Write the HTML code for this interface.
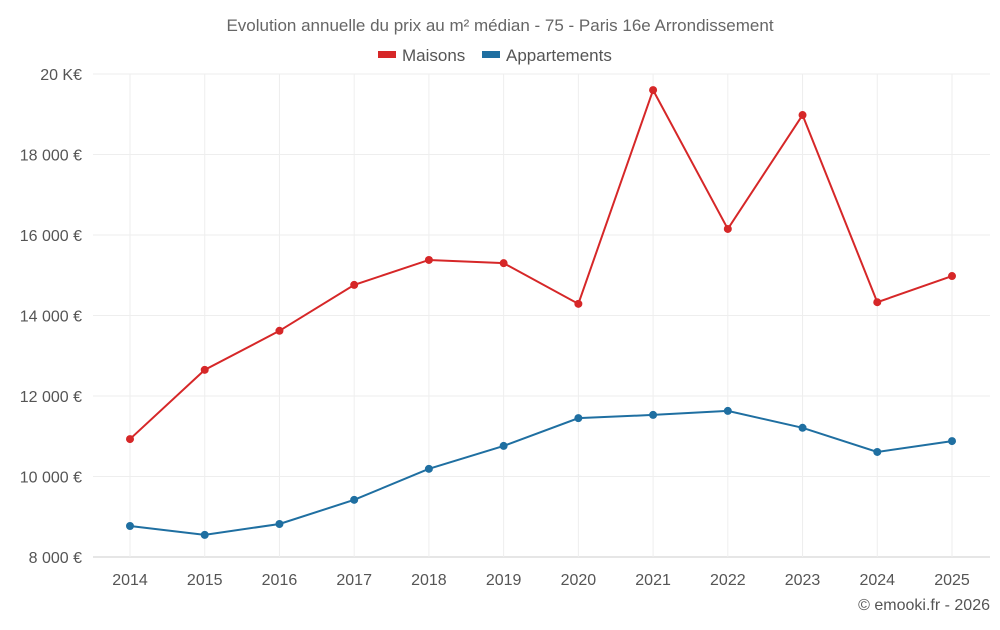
<!DOCTYPE html>
<html><head><meta charset="utf-8"><style>
body{margin:0;background:#fff;font-family:"Liberation Sans",sans-serif}
svg text{font-family:"Liberation Sans",sans-serif}
</style></head><body>
<svg id="c" width="1000" height="625">
<text x="500" y="31" text-anchor="middle" font-size="17" fill="#666">Evolution annuelle du prix au m² médian - 75 - Paris 16e Arrondissement</text>
<g><rect x="378" y="51" width="18" height="7" fill="#d62728"/><text x="402" y="61" font-size="17" fill="#555">Maisons</text></g>
<g><rect x="482" y="51" width="18" height="7" fill="#1f6fa1"/><text x="506" y="61" font-size="17" fill="#555">Appartements</text></g>
<text x="990" y="610" text-anchor="end" font-size="16" fill="#555">© emooki.fr - 2026</text>
<g id="grid"></g><g id="axes"></g><g id="series"></g>
</svg>
<script>
const years=["2014","2015","2016","2017","2018","2019","2020","2021","2022","2023","2024","2025"];
const maisons=[10930,12650,13620,14760,15380,15300,14290,19600,16150,18980,14330,14980];
const apparts=[8770,8550,8820,9420,10190,10760,11450,11530,11630,11210,10610,10880];
const yTicks=[8000,10000,12000,14000,16000,18000,20000];
const yTickLabels=["8 000 €","10 000 €","12 000 €","14 000 €","16 000 €","18 000 €","20 K€"];
const L=93,R=990,T=74,B=557,ymin=8000,ymax=20000;
const NS="http://www.w3.org/2000/svg";
const x=i=>130+i*(952-130)/(years.length-1);
const y=v=>B-(v-ymin)/(ymax-ymin)*(B-T);
function mk(t,a,p){const e=document.createElementNS(NS,t);for(const k in a)e.setAttribute(k,a[k]);p.appendChild(e);return e;}
const g=document.getElementById('grid'),ax=document.getElementById('axes'),s=document.getElementById('series');
yTicks.forEach((v,i)=>{
 const l=mk('line',{x1:L,x2:R,y1:y(v),y2:y(v),stroke:i==0?'#ccc':'#eee'},g);
 
 
 const t=mk('text',{x:82,y:y(v)+6,'text-anchor':'end','font-size':16,fill:'#555'},ax);
 t.textContent=yTickLabels[i];
 
 
});
years.forEach((yr,i)=>{
 const l=mk('line',{x1:x(i),x2:x(i),y1:T,y2:B,stroke:'#eee'},g);
 
 
 const t=mk('text',{x:x(i),y:585,'text-anchor':'middle','font-size':16,fill:'#555'},ax);
 t.textContent=yr;
 
 
});
[[maisons,'#d62728','maisons'],[apparts,'#1f6fa1','appartements']].forEach(([d,c,n])=>{
 const p=mk('polyline',{points:d.map((v,i)=>x(i)+','+y(v)).join(' '),fill:'none',stroke:c,'stroke-width':2},s);
 
 
 d.forEach((v,i)=>{
  const ci=mk('circle',{cx:x(i),cy:y(v),r:4,fill:c},s);
  
  
 });
});
</script>
</body></html>
